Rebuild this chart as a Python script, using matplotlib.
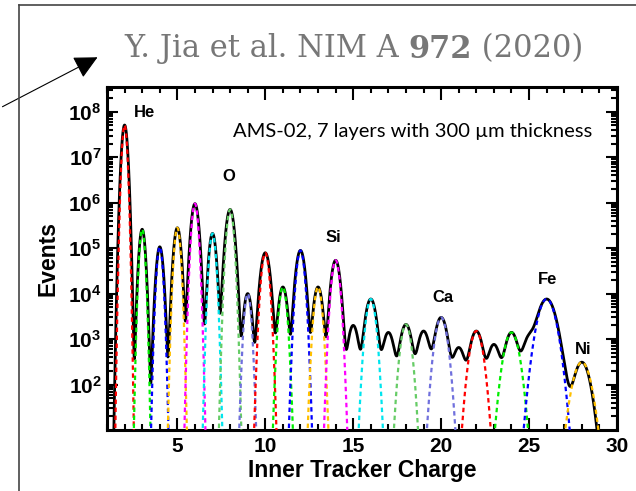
import numpy as np
import matplotlib.pyplot as plt
from matplotlib.lines import Line2D

plt.rcParams['font.family'] = ['Liberation Sans', 'DejaVu Sans']
plt.rcParams['mathtext.fontset'] = 'custom'
plt.rcParams['mathtext.rm'] = 'Liberation Sans'
plt.rcParams['mathtext.bf'] = 'Liberation Sans:bold'

# measured charge peaks (black histogram)
charges = [2, 3, 4, 5, 6, 7, 8, 9, 10, 11, 12, 13, 14, 15,
           16, 17, 18, 19, 20, 21, 22, 23, 24, 25, 26, 27, 28]
peak_events = [5.1e7, 2.6e5, 1.07e5, 2.8e5, 9.5e5, 2.1e5, 7.1e5, 1.0e4, 7.9e4,
               1.4e4, 8.9e4, 1.4e4, 5.4e4, 2.0e3, 7.6e3, 1.4e3, 2.1e3, 1.5e3,
               3.0e3, 650, 1.5e3, 760, 1.4e3, 1.05e3, 7.6e3, 63, 310]
peak_width = [0.11, 0.118, 0.132, 0.14, 0.148, 0.14, 0.165, 0.16, 0.185,
              0.175, 0.18, 0.18, 0.18, 0.22, 0.225, 0.245, 0.245, 0.255,
              0.255, 0.27, 0.27, 0.27, 0.28, 0.3, 0.38, 0.3, 0.33]

# fitted components (coloured dashed curves)
fit_charges = [2, 3, 4, 5, 6, 7, 8, 9, 10, 11, 12, 13, 14,
               16, 18, 20, 22, 24, 26, 28]
fit_width = [0.095, 0.105, 0.115, 0.12, 0.125, 0.125, 0.135, 0.13, 0.15, 0.15,
             0.155, 0.155, 0.16, 0.19, 0.21, 0.24, 0.26, 0.3, 0.36, 0.36]
fit_colors = ['#ff0000', '#00ee00', '#0000ff', '#ffc000',
              '#ff00ff', '#00e5ee', '#66cc66', '#7070dd']

labels = ['He', 'O', 'Si', 'Ca', 'Fe', 'Ni']
label_x = [3.15, 7.95, 13.85, 20.1, 26.05, 28.05]
label_y = [9.5e7, 3.7e6, 1.7e5, 8.1e3, 2.0e4, 590]


def gauss(x, mu, amp, sig):
    return amp * np.exp(-0.5 * ((x - mu) / sig) ** 2)


fig = plt.figure(figsize=(6.36, 4.91), dpi=100)
ax = fig.add_axes([107 / 636, 61 / 491, 510 / 636, 343 / 491])

x = np.linspace(1, 30, 4000)
peak_map = dict(zip(charges, peak_events))

total = np.zeros_like(x)
for z, a, s in zip(charges, peak_events, peak_width):
    total += gauss(x, z, a, s)
ax.plot(x, np.maximum(total, 1e-3), color='black', lw=2.0, zorder=2)

for i, (z, s) in enumerate(zip(fit_charges, fit_width)):
    y = gauss(x, z, peak_map[z], s)
    ax.plot(x, np.maximum(y, 1e-3), color=fit_colors[i % len(fit_colors)],
            lw=1.6, ls=(0, (2.0, 1.6)), zorder=3)

ax.set_yscale('log')
ax.set_xlim(1, 30)
ax.set_ylim(10, 3.5e8)

ax.set_xticks([5, 10, 15, 20, 25, 30])
ax.set_xticklabels(['5', '10', '15', '20', '25', '30'], fontweight='bold', fontsize=15)
ax.set_xticks(np.arange(1, 31), minor=True)
yt = [1e2, 1e3, 1e4, 1e5, 1e6, 1e7, 1e8]
ax.set_yticks(yt)
ax.set_yticklabels([r'$\mathbf{10^{%d}}$' % k for k in range(2, 9)], fontsize=15)

ax.tick_params(which='both', direction='in', top=True, right=True, width=1.5)
ax.tick_params(axis='x', which='major', length=9, pad=5)
ax.tick_params(axis='x', which='minor', length=4.5)
ax.tick_params(axis='y', which='major', length=8, pad=4)
ax.tick_params(axis='y', which='minor', length=4)
for sp in ax.spines.values():
    sp.set_linewidth(2.2)

ax.set_xlabel('Inner Tracker Charge', fontsize=16.5, fontweight='bold', labelpad=2)
ax.set_ylabel('Events', fontsize=16.5, fontweight='bold', labelpad=6)

for t, lx, ly in zip(labels, label_x, label_y):
    ax.text(lx, ly, t, fontsize=12, fontweight='bold', ha='center', va='center')

ax.text(0.247, 0.869, 'AMS-02, 7 layers with 300 µm thickness', transform=ax.transAxes,
        fontsize=14.5, family='Lato', ha='left', va='center')

# slide frame and citation
fig.add_artist(Line2D([19 / 636, 19 / 636], [0, 1 - 5 / 491], color='#444444', lw=1.2))
fig.add_artist(Line2D([19 / 636, 1], [1 - 5 / 491, 1 - 5 / 491], color='#444444', lw=1.2))
ax.annotate('', xy=(100, 491 - 56), xytext=(0, 491 - 108), xycoords='figure pixels',
            textcoords='figure pixels',
            arrowprops=dict(arrowstyle='-|>', mutation_scale=36, lw=0.8, color='black'))

t1 = fig.text(124 / 636, 1 - 49 / 491, 'Y. Jia et al. NIM A ', family='DejaVu Serif',
              fontsize=22, color='#777777', va='center', ha='left')
t2 = ax.annotate('972', xy=(1, 0), xycoords=t1, family='DejaVu Serif', fontsize=22,
                 fontweight='bold', color='#777777', va='bottom', ha='left')
ax.annotate(' (2020)', xy=(1, 0), xycoords=t2, family='DejaVu Serif', fontsize=22,
            color='#777777', va='bottom', ha='left')

fig.savefig('out.png', dpi=100)
